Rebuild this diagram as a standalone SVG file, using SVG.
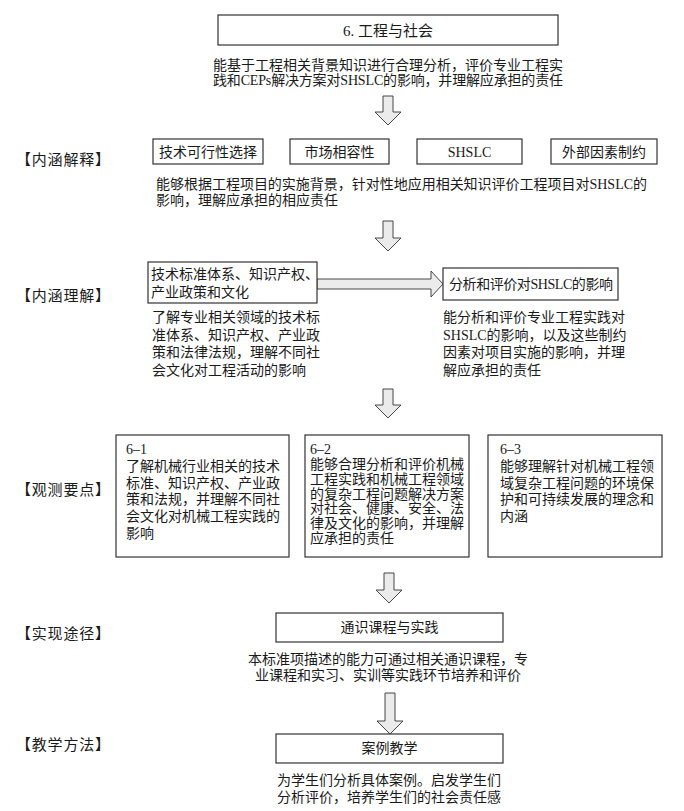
<svg xmlns="http://www.w3.org/2000/svg" width="684" height="811" viewBox="0 0 684 811">
<style>
text{font-family:"Liberation Serif","Noto Sans CJK SC",serif;font-size:14px;fill:#1a1a1a}
.c{text-anchor:middle}
.lbl{font-size:15px}
.box{fill:#fff;stroke:#333;stroke-width:1.2}
.arr{fill:#ebebeb;stroke:#333;stroke-width:0.9;stroke-linejoin:miter}
</style>
<rect width="684" height="811" fill="#fff"/>

<g id="labels">
<text class="lbl" x="16" y="165" textLength="94" lengthAdjust="spacing">【内涵解释】</text>
<text class="lbl" x="16" y="301" textLength="94" lengthAdjust="spacing">【内涵理解】</text>
<text class="lbl" x="16" y="495" textLength="94" lengthAdjust="spacing">【观测要点】</text>
<text class="lbl" x="16" y="639" textLength="94" lengthAdjust="spacing">【实现途径】</text>
<text class="lbl" x="16" y="750" textLength="94" lengthAdjust="spacing">【教学方法】</text>
</g>

<g id="connectors">
<path class="arr" d="M383,96 H393 V112 H401 L388,125 L375,112 H383 Z"/>
<path class="arr" d="M383,221 H393 V238 H401 L388,251 L375,238 H383 Z"/>
<path class="arr" d="M383,389 H393 V405 H401 L388,418 L375,405 H383 Z"/>
<path class="arr" d="M384,573 H394 V590 H402 L389,603 L376,590 H384 Z"/>
<path class="arr" d="M385,693 H395 V721 H403 L390,734 L377,721 H385 Z"/>
<path class="arr" d="M317,279 H431 V271 L443,284 L431,297 V289 H317 Z"/>
</g>

<g id="n-top">
<rect class="box" x="218" y="15" width="340" height="30"/>
<text class="c" x="388" y="36" style="font-size:15px">6. 工程与社会</text>
<text x="213" y="70" textLength="350" lengthAdjust="spacing">能基于工程相关背景知识进行合理分析，评价专业工程实</text>
<text x="213" y="85" textLength="350" lengthAdjust="spacing">践和CEPs解决方案对SHSLC的影响，并理解应承担的责任</text>
</g>

<g id="n-tech">
<rect class="box" x="153" y="139" width="110" height="25"/>
<text class="c" x="208" y="157">技术可行性选择</text>
</g>
<g id="n-market">
<rect class="box" x="290" y="139" width="99" height="25"/>
<text class="c" x="339.5" y="157">市场相容性</text>
</g>
<g id="n-shslc">
<rect class="box" x="417" y="139" width="105" height="25"/>
<text class="c" x="469.5" y="157">SHSLC</text>
</g>
<g id="n-external">
<rect class="box" x="551" y="139" width="106" height="25"/>
<text class="c" x="604" y="157">外部因素制约</text>
</g>
<g id="t-explain">
<text x="156" y="189" textLength="491" lengthAdjust="spacing">能够根据工程项目的实施背景，针对性地应用相关知识评价工程项目对SHSLC的</text>
<text x="156" y="205">影响，理解应承担的相应责任</text>
</g>

<g id="n-standards">
<rect class="box" x="148" y="262" width="169" height="41"/>
<text x="151" y="279">技术标准体系、知识产权、</text>
<text x="151" y="297">产业政策和文化</text>
<text x="152" y="322">了解专业相关领域的技术标</text>
<text x="152" y="339.5">准体系、知识产权、产业政</text>
<text x="152" y="357">策和法律法规，理解不同社</text>
<text x="152" y="374.5">会文化对工程活动的影响</text>
</g>

<g id="n-analysis">
<rect class="box" x="443" y="268" width="175" height="32"/>
<text x="449" y="289" textLength="164" lengthAdjust="spacing">分析和评价对SHSLC的影响</text>
<text x="443" y="322">能分析和评价专业工程实践对</text>
<text x="443" y="339.5">SHSLC的影响，以及这些制约</text>
<text x="443" y="357">因素对项目实施的影响，并理</text>
<text x="443" y="374.5">解应承担的责任</text>
</g>

<g id="n-6-1">
<rect class="box" x="116" y="435" width="173" height="122"/>
<text x="126" y="454">6–1</text>
<text x="126" y="471">了解机械行业相关的技术</text>
<text x="126" y="487.5">标准、知识产权、产业政</text>
<text x="126" y="504">策和法规，并理解不同社</text>
<text x="126" y="521">会文化对机械工程实践的</text>
<text x="126" y="538">影响</text>
</g>
<g id="n-6-2">
<rect class="box" x="305" y="435" width="164" height="122"/>
<text x="310" y="454">6–2</text>
<text x="310" y="469">能够合理分析和评价机械</text>
<text x="310" y="484">工程实践和机械工程领域</text>
<text x="310" y="499">的复杂工程问题解决方案</text>
<text x="310" y="513">对社会、健康、安全、法</text>
<text x="310" y="528">律及文化的影响，并理解</text>
<text x="310" y="543">应承担的责任</text>
</g>
<g id="n-6-3">
<rect class="box" x="488" y="435" width="174" height="122"/>
<text x="500" y="454">6–3</text>
<text x="500" y="470.5">能够理解针对机械工程领</text>
<text x="500" y="487.5">域复杂工程问题的环境保</text>
<text x="500" y="504">护和可持续发展的理念和</text>
<text x="500" y="521">内涵</text>
</g>

<g id="n-course">
<rect class="box" x="276" y="613" width="227" height="29"/>
<text class="c" x="389.5" y="632">通识课程与实践</text>
<text class="c" x="388" y="664">本标准项描述的能力可通过相关通识课程，专</text>
<text class="c" x="388" y="680">业课程和实习、实训等实践环节培养和评价</text>
</g>

<g id="n-case">
<rect class="box" x="276" y="734" width="227" height="29"/>
<text class="c" x="389.5" y="753">案例教学</text>
<text class="c" x="389" y="785">为学生们分析具体案例。启发学生们</text>
<text class="c" x="389" y="802">分析评价，培养学生们的社会责任感</text>
</g>
</svg>
